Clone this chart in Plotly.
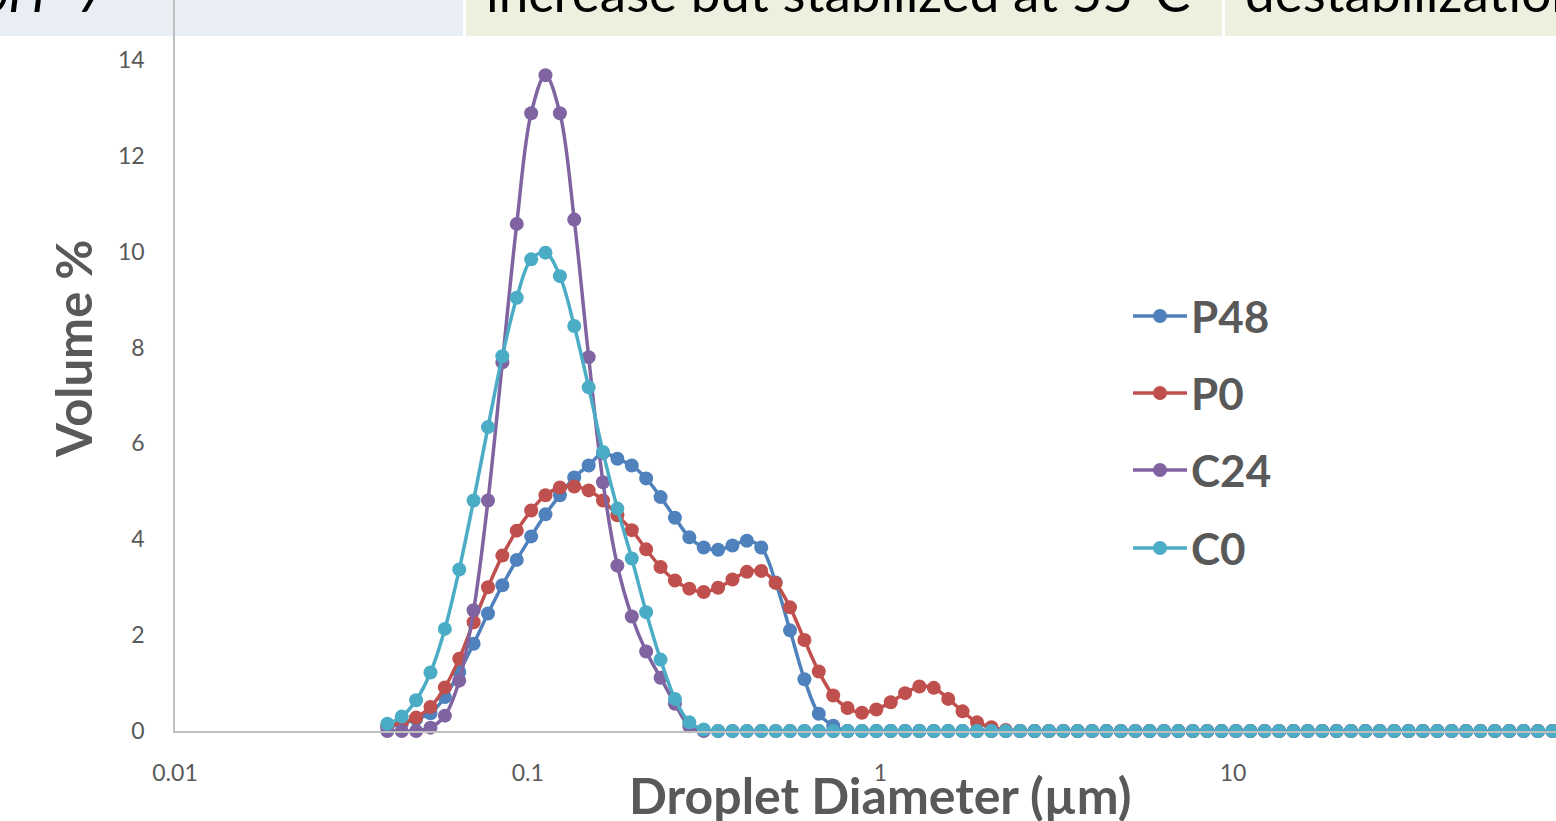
import plotly.graph_objects as go

# Droplet size classes (µm)
diameter_um = [0.04, 0.04394, 0.04826, 0.05301, 0.05823, 0.06396, 0.07025, 0.07717, 0.08476, 0.0931,
               0.1023, 0.1123, 0.1234, 0.1355, 0.1489, 0.1635, 0.1796, 0.1973, 0.2167, 0.2381,
               0.2615, 0.2873, 0.3155, 0.3466, 0.3807, 0.4182, 0.4594, 0.5046, 0.5543, 0.6089,
               0.6688, 0.7347, 0.807, 0.8864, 0.9737, 1.070, 1.175, 1.290, 1.417, 1.557,
               1.710, 1.879, 2.064, 2.267, 2.490, 2.736, 3.005, 3.301, 3.626, 3.983,
               4.375, 4.806, 5.279, 5.799, 6.370, 6.997, 7.686, 8.443, 9.275, 10.19,
               11.19, 12.29, 13.50, 14.83, 16.29, 17.90, 19.66, 21.59, 23.72, 26.05,
               28.62, 31.44, 34.53, 37.94, 41.67, 45.77, 50.28, 55.23, 60.67, 66.64,
               73.20, 80.41, 88.33]

p48 = [0.08, 0.15, 0.25, 0.37, 0.71, 1.23, 1.82, 2.45, 3.04, 3.57,
       4.06, 4.52, 4.92, 5.29, 5.54, 5.80, 5.68, 5.54, 5.27, 4.88,
       4.45, 4.04, 3.83, 3.78, 3.87, 3.97, 3.83, 3.10, 2.10, 1.08,
       0.36, 0.11] + [0.0] * 51

p0 = [0.10, 0.17, 0.28, 0.50, 0.91, 1.51, 2.27, 3.00, 3.66, 4.18,
      4.60, 4.92, 5.08, 5.10, 5.02, 4.81, 4.50, 4.19, 3.79, 3.42,
      3.14, 2.97, 2.90, 2.99, 3.16, 3.32, 3.34, 3.09, 2.58, 1.90,
      1.24, 0.74, 0.48, 0.38, 0.45, 0.60, 0.79, 0.93, 0.90, 0.67,
      0.41, 0.18, 0.08, 0.02] + [0.0] * 39

c24 = [0.0, 0.0, 0.0, 0.07, 0.32, 1.05, 2.52, 4.81, 7.69, 10.58,
       12.89, 13.68, 12.89, 10.67, 7.80, 5.19, 3.45, 2.39, 1.66, 1.11,
       0.57, 0.10] + [0.0] * 61

c0 = [0.15, 0.30, 0.64, 1.22, 2.13, 3.37, 4.81, 6.34, 7.82, 9.04,
      9.84, 9.98, 9.49, 8.45, 7.17, 5.82, 4.64, 3.60, 2.48, 1.49,
      0.67, 0.18, 0.03] + [0.0] * 60

series_names = ["P48", "P0", "C24", "C0"]
series_values = [p48, p0, c24, c0]
series_colors = ["#4F81BD", "#C0504D", "#8064A2", "#4BACC6"]

x_ticks = [0.01, 0.1, 1, 10, 100]
x_tick_labels = ["0.01", "0.1", "1", "10", "100"]
y_ticks = [0, 2, 4, 6, 8, 10, 12, 14]

banner_texts = ["pH=7", "increase but stabilized at 55°C", "destabilization"]

W, H = 1556, 821
ML, MB = 175, 90
PW, PH = W - ML, H - MB


def px(x):
    return (x - ML) / PW


def py(y):
    return 1 - y / PH


fig = go.Figure()
for name, vals, col in zip(series_names, series_values, series_colors):
    fig.add_trace(go.Scatter(
        x=diameter_um, y=vals, name=name, mode="lines+markers",
        line=dict(color=col, width=3.5, shape="spline", smoothing=1.0),
        marker=dict(color=col, size=14),
        cliponaxis=False, showlegend=False,
    ))

axis_gray = "#BFBFBF"
label_gray = "#595959"
FONT = "Lato"

fig.update_layout(
    width=W, height=H,
    margin=dict(l=ML, r=0, t=0, b=MB),
    paper_bgcolor="white", plot_bgcolor="white",
    font=dict(family=FONT, color=label_gray),
    showlegend=False,
    xaxis=dict(type="log", range=[-2, -2 + PW / 352.7], tickvals=x_ticks, ticktext=x_tick_labels,
               showgrid=False, zeroline=False, showline=True, linecolor=axis_gray, linewidth=1.5,
               ticks="", tickfont=dict(family=FONT, size=23, color=label_gray),
               ticklabelstandoff=21),
    yaxis=dict(range=[0, PH / 47.93], tickvals=y_ticks, showgrid=False, zeroline=False,
               showline=True, linecolor=axis_gray, linewidth=1.5, ticks="",
               tickfont=dict(family=FONT, size=23, color=label_gray), ticklabelstandoff=24),
)

# Banner cells at the top
cells = [(-20, 463, "#E9EDF4"), (466, 1222, "#EBF1DE"), (1225, 1600, "#EBF1DE")]
for x0, x1, col in cells:
    fig.add_shape(type="rect", xref="paper", yref="paper", x0=px(x0), x1=px(x1),
                  y0=py(36), y1=py(-20), fillcolor=col, line=dict(width=0), layer="below")

fig.add_annotation(x=px(110), y=py(-9), xref="paper", yref="paper", text="<i>" + banner_texts[0] + "</i>",
                   showarrow=False, xanchor="right", yanchor="middle",
                   font=dict(family=FONT, size=53, color="black"))
fig.add_annotation(x=px(484), y=py(-9), xref="paper", yref="paper", text=banner_texts[1],
                   showarrow=False, xanchor="left", yanchor="middle",
                   font=dict(family=FONT, size=53, color="black"))
fig.add_annotation(x=px(1243), y=py(-9), xref="paper", yref="paper", text=banner_texts[2],
                   showarrow=False, xanchor="left", yanchor="middle",
                   font=dict(family=FONT, size=53, color="black"))

# Legend (drawn to match the reference layout)
legend_y = [316, 393, 470, 548]
for name, col, ly in zip(series_names, series_colors, legend_y):
    fig.add_shape(type="line", xref="paper", yref="paper", x0=px(1133), x1=px(1187),
                  y0=py(ly), y1=py(ly), line=dict(color=col, width=3.5))
    fig.add_shape(type="circle", xref="paper", yref="paper", x0=px(1160 - 7), x1=px(1160 + 7),
                  y0=py(ly + 7), y1=py(ly - 7), fillcolor=col, line=dict(width=0))
    fig.add_annotation(x=px(1189), y=py(ly), xref="paper", yref="paper", text="<b>" + name + "</b>",
                       showarrow=False, xanchor="left", yanchor="middle",
                       font=dict(family=FONT, size=44, color=label_gray))

# Axis titles
fig.add_annotation(x=px(880), y=py(795), xref="paper", yref="paper", text="<b>Droplet Diameter (µm)</b>",
                   showarrow=False, xanchor="center", yanchor="middle",
                   font=dict(family=FONT, size=50, color=label_gray))
fig.add_annotation(x=px(73), y=py(349), xref="paper", yref="paper", text="<b>Volume %</b>",
                   showarrow=False, xanchor="center", yanchor="middle", textangle=-90,
                   font=dict(family=FONT, size=49, color=label_gray))

fig.write_html("out.html", config={"displayModeBar": False},
               post_script="document.body.style.margin='0';")
